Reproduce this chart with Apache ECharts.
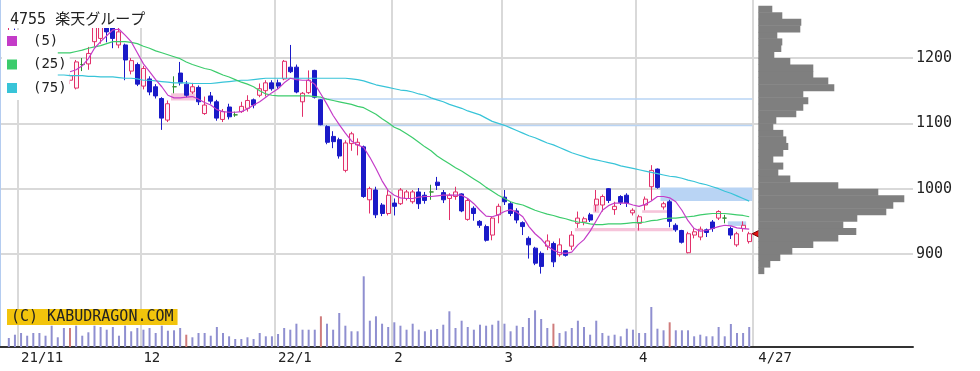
<!DOCTYPE html>
<html><head><meta charset="utf-8">
<script src="https://cdn.jsdelivr.net/npm/echarts@6/dist/echarts.min.js"></script>
<style>html,body{margin:0;padding:0;background:#fff;}#c{width:980px;height:371px;}</style>
</head><body><div id="c"></div>
<script>
// ---------------- DATA ----------------
const dates = [
'2021/10/28','2021/10/29',
'2021/11/1','2021/11/2','2021/11/4','2021/11/5','2021/11/8','2021/11/9','2021/11/10','2021/11/11','2021/11/12','2021/11/15',
'2021/11/16','2021/11/17','2021/11/18','2021/11/19','2021/11/22','2021/11/24','2021/11/25','2021/11/26','2021/11/29','2021/11/30',
'2021/12/1','2021/12/2','2021/12/3','2021/12/6','2021/12/7','2021/12/8','2021/12/9','2021/12/10','2021/12/13','2021/12/14','2021/12/15',
'2021/12/16','2021/12/17','2021/12/20','2021/12/21','2021/12/22','2021/12/23','2021/12/24','2021/12/27','2021/12/28','2021/12/29','2021/12/30',
'2022/1/4','2022/1/5','2022/1/6','2022/1/7','2022/1/11','2022/1/12','2022/1/13','2022/1/14','2022/1/17','2022/1/18',
'2022/1/19','2022/1/20','2022/1/21','2022/1/24','2022/1/25','2022/1/26','2022/1/27','2022/1/28','2022/1/31',
'2022/2/1','2022/2/2','2022/2/3','2022/2/4','2022/2/7','2022/2/8','2022/2/9','2022/2/10','2022/2/14','2022/2/15',
'2022/2/16','2022/2/17','2022/2/18','2022/2/21','2022/2/22','2022/2/24','2022/2/25','2022/2/28',
'2022/3/1','2022/3/2','2022/3/3','2022/3/4','2022/3/7','2022/3/8','2022/3/9','2022/3/10','2022/3/11','2022/3/14','2022/3/15',
'2022/3/16','2022/3/17','2022/3/18','2022/3/22','2022/3/23','2022/3/24','2022/3/25','2022/3/28','2022/3/29','2022/3/30','2022/3/31',
'2022/4/1','2022/4/4','2022/4/5','2022/4/6','2022/4/7','2022/4/8','2022/4/11','2022/4/12','2022/4/13','2022/4/14',
'2022/4/15','2022/4/18','2022/4/19','2022/4/20','2022/4/21','2022/4/22','2022/4/25','2022/4/26','2022/4/27'
];
const opens = [
1235,1240,1228,1212,1203,1195,1188,1190,1178,1172,
1166,1154,1190,1191,1225,1230,1262,1258,1220,1220,
1180,1190,1157,1168,1156,1138,1105,1156,1177,1160,
1148,1155,1115,1142,1133,1106,1125,1113,1118,1123,
1136,1143,1150,1162,1162,1168,1186,1186,1133,1147,
1181,1136,1095,1080,1075,1028,1069,1067,1064,983,
998,975,962,978,977,985,980,995,990,995,
1010,994,985,988,992,953,970,950,942,929,
960,987,977,966,948,924,909,901,912,916,
899,905,912,947,949,960,975,975,1000,968,
988,990,963,947,975,1003,1030,972,980,944,
936,902,929,926,937,949,955,955,939,914,
939,919];
const closes = [
1242,1232,1215,1205,1196,1188,1192,1180,1172,1168,
1173,1194,1190,1207,1252,1258,1240,1230,1240,1197,
1196,1160,1184,1148,1142,1108,1130,1156,1162,1143,
1156,1133,1128,1134,1108,1118,1110,1113,1126,1135,
1128,1153,1162,1153,1157,1195,1179,1148,1146,1166,
1140,1098,1071,1072,1050,1070,1084,1071,988,1000,
960,962,990,973,998,995,995,977,982,995,
1005,983,990,995,966,982,962,944,921,955,
973,980,962,952,942,914,886,881,920,888,
914,898,929,955,954,952,984,988,982,973,
979,978,967,957,984,1028,1002,977,950,937,
918,931,934,938,933,939,965,955,929,931,
944,931];
const lows = [
1228,1225,1210,1198,1190,1182,1183,1175,1168,1162,
1160,1152,1180,1182,1218,1222,1224,1215,1215,1166,
1175,1157,1152,1143,1138,1090,1102,1146,1158,1140,
1145,1128,1113,1130,1104,1102,1106,1110,1116,1118,
1123,1140,1141,1150,1153,1166,1177,1146,1110,1145,
1138,1097,1068,1062,1046,1025,1058,1051,986,962,
955,958,959,959,975,982,977,969,977,983,
998,978,952,983,964,951,951,940,919,921,
947,975,958,947,929,893,883,870,906,880,
896,896,906,940,944,949,965,965,978,960,
975,972,959,936,967,982,1000,968,941,934,
916,901,924,921,926,934,952,947,923,911,
934,916];
const highs = [
1248,1245,1232,1218,1208,1200,1198,1194,1185,1178,
1176,1197,1200,1217,1260,1266,1272,1280,1255,1222,
1200,1193,1188,1172,1160,1140,1135,1172,1194,1165,
1162,1158,1141,1148,1136,1122,1130,1118,1133,1143,
1138,1161,1166,1166,1167,1197,1220,1190,1148,1181,
1182,1137,1097,1088,1078,1074,1087,1077,1066,1003,
1003,978,999,985,1001,998,998,1001,995,1006,
1018,998,993,1003,993,985,973,952,945,957,
977,998,980,970,950,927,911,904,930,919,
924,906,935,965,957,963,998,991,1001,980,
990,993,970,960,988,1036,1031,980,983,947,
937,934,939,942,939,952,967,960,942,934,
950,934];
// volume (x100k shares)
const volumes = [
9,12.3,14,11.3,14,14,11.3,21.3,9.7,19,
19,21.3,11.3,14.7,21.3,20,17.3,20,11.3,21.3,
15.7,19,17.3,19,14,21.3,16.3,16.7,19,12.3,
9.7,14,14,11.3,20,14,10.7,8,8,9.7,
8,14,10.7,10.7,13,19,17.3,23.3,17.3,17.3,
17.3,30.7,23.3,17.3,34,21.3,15.7,15.7,70.7,26.3,
30.7,23.3,20,24.7,21.3,17.3,23.3,17.3,15.7,17.3,
18,22.3,35.7,19,26.3,20,17.3,22.3,21.3,22.3,
26.3,23.3,15.7,21.3,20,29,36.7,28,19,23.3,
14,15.7,19,26.3,20,12.3,26.3,14,11.3,12.3,
10.7,18.3,17.3,14,14,40,18.3,16.7,24.7,16.7,
16.7,16.7,10.7,12.3,10.7,10.7,20,10.7,23,14,
14,20];
const volumeRedIdx = [10, 29, 51, 89, 108];
const ma5 = [
'-','-','-','-','-','-','-','-','-','-',
1179,1182,1188,1199,1215,1225,1234,1243,1244,1235,
1225,1208,1191,1179,1167,1156,1143,1139,1139,1140,
1141,1137,1132,1128,1121,1118,1117,1117,1118,1122,
1128,1133,1140,1147,1153,1162,1169,1167,1166,1166,
1160,1145,1129,1112,1098,1085,1073,1067,1063,1048,
1031,1012,997,990,986,985,985,987,988,988,
989,990,990,990,990,985,977,967,958,957,
960,965,968,964,957,942,931,923,912,906,
902,901,903,914,922,935,951,967,974,978,
978,978,975,973,976,981,988,988,986,980,
967,951,939,935,936,939,942,944,943,940,
939,938];
const ma25 = [
'-','-','-','-','-','-','-','-',1208,1208,
1208,1210,1212,1215,1217,1219,1222,1225,1225,1225,
1224,1222,1218,1215,1211,1208,1205,1202,1199,1194,
1190,1187,1184,1182,1178,1174,1171,1167,1163,1160,
1156,1150,1145,1143,1142,1142,1142,1142,1142,1142,
1141,1140,1137,1135,1133,1131,1129,1126,1124,1119,
1114,1107,1101,1094,1090,1084,1078,1071,1064,1058,
1050,1044,1038,1032,1027,1021,1015,1009,1002,996,
990,985,980,977,975,971,967,964,961,959,
956,954,951,949,948,946,945,945,946,946,
946,947,948,948,949,951,952,954,955,955,
956,957,958,960,961,962,962,962,961,960,
959,957];
const ma75 = [
'-','-','-','-','-','-','-','-',1174,1174,
1173,1173,1173,1172,1172,1171,1171,1171,1170,1169,
1169,1168,1166,1166,1165,1164,1163,1162,1162,1162,
1161,1161,1161,1161,1162,1163,1164,1165,1166,1166,
1167,1168,1169,1169,1169,1169,1169,1169,1169,1169,
1169,1169,1169,1169,1169,1169,1168,1167,1165,1162,
1159,1157,1155,1153,1151,1150,1148,1145,1143,1139,
1136,1133,1129,1126,1123,1119,1116,1113,1108,1103,
1100,1097,1093,1089,1085,1081,1078,1074,1070,1067,
1063,1059,1055,1052,1049,1046,1044,1042,1040,1038,
1035,1033,1031,1029,1027,1025,1023,1021,1019,1018,
1016,1013,1011,1008,1006,1003,1000,996,993,989,
985,981];
// price-volume profile: bucket lower bound (yen) and relative volume
const profileLow = [870,880,890,900,910,920,930,940,950,960,970,980,990,1000,1010,1020,1030,1040,1050,1060,1070,1080,1090,1100,1110,1120,1130,1140,1150,1160,1170,1180,1190,1200,1210,1220,1230,1240,1250,1260,1270];
const profileVol = [6,12,22,34,55,80,98,85,99,128,135,146,120,80,32,20,25,15,25,30,28,25,15,18,38,45,50,45,76,70,55,55,32,16,23,24,19,42,43,24,14];
const profileStep = 10;
// price gaps (windows): start/end candle index, price low/high, kind
const zoneStart = [27, 93, 104, 96, 51, 51, 107, 118];
const zoneEnd   = [30, 108, 108, 96, 121, 121, 121, 120];
const zoneLow   = [1135, 935, 963, 963, 1136.5, 1096, 981, 943];
const zoneHigh  = [1146, 940, 967, 975, 1138.5, 1098, 1002, 950];
const zoneKind  = ['up','up','up','up','down','down','down','down'];
// axis ticks
const xTickDates  = ['2021/11/1','2021/12/1','2022/1/4','2022/2/1','2022/3/1','2022/4/1','2022/4/27'];
const xTickLabels = ['21/11','12','22/1','2','3','4','4/27'];
const gridLineDates = ['2021/11/1','2021/12/1','2022/1/4','2022/2/1','2022/3/1','2022/4/1'];
const yTicks = [900, 1000, 1100, 1200];

// ---------------- LAYOUT ----------------
const MONO = "'DejaVu Sans Mono', monospace";
const MONOJP = "'DejaVu Sans Mono', 'Noto Sans CJK JP', sans-serif";
const N = dates.length;
const PX_LEFT = 5.76, BAND = 6.119;
const PLOT_W = N * BAND;
const AXIS_X = 913, BASE_Y = 347;
const PX_PER_YEN = 65.333 / 100;
const P_MAX = 1288.8;          // price at the top edge of the plot
const P_MIN = 800;             // price range floor for the hidden price axes
const P_H = (P_MAX - P_MIN) * PX_PER_YEN;
const T_MIN = 900;             // lowest labelled price
const T_H = (P_MAX - T_MIN) * PX_PER_YEN;
const PROF_LEFT = 758.3;

const chart = echarts.init(document.getElementById('c'));
const candleData = dates.map((d, i) => [opens[i], closes[i], lows[i], highs[i]]);
const zoneData = zoneStart.map((s, i) => [s, zoneEnd[i], zoneLow[i], zoneHigh[i]]);
const profData = profileLow.map((lo, i) => [lo, lo + profileStep, profileVol[i]]);

const option = {
  animation: false,
  backgroundColor: '#fff',
  title: {
    text: '4755 楽天グループ', left: 2, top: 0, padding: [13, 8, 0, 8],
    backgroundColor: '#fff',
    textStyle: { fontFamily: MONOJP, fontSize: 15, fontWeight: 'normal', color: '#222' }
  },
  legend: {
    data: ['(5)', '(25)', '(75)'], orient: 'vertical', left: 2, top: 30,
    padding: [3, 3, 4, 5], itemGap: 7.5, itemWidth: 10, itemHeight: 10, icon: 'rect',
    backgroundColor: '#fff', selectedMode: false,
    textStyle: { fontFamily: MONO, fontSize: 14, color: '#222', padding: [0, 0, 0, 11], lineHeight: 16 }
  },
  graphic: [{
    type: 'text', left: 7, top: 309, z: 100,
    style: { text: '(C) KABUDRAGON.COM', font: '15px ' + MONO, fill: '#222',
             backgroundColor: '#f2c40c', padding: [1, 4, 0, 4] }
  }],
  grid: [
    { left: PX_LEFT, width: PLOT_W, top: 0, height: P_H },                   // 0 candles
    { left: PX_LEFT, width: PLOT_W, top: 0, height: BASE_Y },                // 1 volume + date axis
    { left: 0, width: AXIS_X, top: 0, height: T_H },                         // 2 price ticks/grid lines
    { left: PROF_LEFT, width: AXIS_X - PROF_LEFT, top: 0, height: P_H },     // 3 profile
    { left: 0, width: AXIS_X, top: 0, height: BASE_Y }                       // 4 frame
  ],
  xAxis: [
    { type: 'category', gridIndex: 0, data: dates, show: false },
    { type: 'category', gridIndex: 1, data: dates,
      axisLine: { show: false }, axisTick: { show: false },
      splitLine: { show: true, interval: (i) => gridLineDates.includes(dates[i]),
                   lineStyle: { color: '#d9d9d9', width: 2 } },
      axisLabel: {
        interval: (i) => xTickDates.includes(dates[i]),
        align: 'left', margin: 4, fontFamily: MONO, fontSize: 14, color: '#222',
        formatter: (v, i) => {
          const k = xTickDates.indexOf(v);
          if (k < 0) return '';
          return i === N - 1 ? '{s|' + xTickLabels[k] + '}' : xTickLabels[k];
        },
        rich: { s: { padding: [0, 0, 0, 9], fontFamily: MONO, fontSize: 14, color: '#222' } }
      } },
    { type: 'value', gridIndex: 2, min: 0, max: 1, show: false },
    { type: 'value', gridIndex: 3, min: 0, max: AXIS_X - PROF_LEFT, show: false },
    { type: 'value', gridIndex: 4, min: 0, max: 1, position: 'bottom',
      axisLine: { show: true, lineStyle: { color: '#333', width: 2 } },
      axisTick: { show: false }, axisLabel: { show: false }, splitLine: { show: false } }
  ],
  yAxis: [
    { type: 'value', gridIndex: 0, min: P_MIN, max: P_MAX, show: false },
    { type: 'value', gridIndex: 1, min: 0, max: BASE_Y, show: false },
    { type: 'value', gridIndex: 2, min: T_MIN, max: P_MAX, interval: 100, position: 'right',
      axisLine: { show: false },
      axisTick: { show: true, inside: true, length: 5, lineStyle: { color: '#333', width: 1.5 } },
      axisLabel: { margin: 3, fontFamily: MONO, fontSize: 15, color: '#222', showMaxLabel: false,
                   formatter: (v) => yTicks.includes(v) ? String(v) : '' },
      splitLine: { show: true, showMaxLine: false, lineStyle: { color: '#d9d9d9', width: 2 } } },
    { type: 'value', gridIndex: 3, min: P_MIN, max: P_MAX, show: false },
    { type: 'value', gridIndex: 4, min: 0, max: 1, position: 'right',
      axisLine: { show: true, lineStyle: { color: '#333', width: 2 } },
      axisTick: { show: false }, axisLabel: { show: false }, splitLine: { show: false } },
    { type: 'value', gridIndex: 4, min: 0, max: 1, position: 'left',
      axisLine: { show: true, lineStyle: { color: '#b4ccf0', width: 2 } },
      axisTick: { show: false }, axisLabel: { show: false }, splitLine: { show: false } }
  ],
  series: [
    { type: 'custom', name: 'gaps', xAxisIndex: 0, yAxisIndex: 0, z: 1,
      data: zoneData, encode: { x: [0, 1], y: [2, 3] },
      renderItem: (params, api) => {
        const s = api.value(0), e = api.value(1), lo = api.value(2), hi = api.value(3);
        const p1 = api.coord([s, hi]), p2 = api.coord([e, lo]);
        const bw = api.size([1, 0])[0];
        return { type: 'rect',
          shape: { x: p1[0] - bw / 2, y: p1[1], width: p2[0] - p1[0] + bw, height: Math.max(p2[1] - p1[1], 1.5) },
          style: { fill: zoneKind[params.dataIndex] === 'up' ? '#f6c4da' : '#b9d4f4' } };
      } },
    { type: 'candlestick', name: 'price', xAxisIndex: 0, yAxisIndex: 0, z: 3,
      data: candleData, barWidth: 4.5,
      itemStyle: { color: '#fff4f8', color0: '#1a1ac8', borderColor: '#e2306a', borderColor0: '#1a1ac8',
                   borderColorDoji: '#2f8f2f', borderWidth: 1 },
      markPoint: {
        symbol: 'triangle', symbolSize: [10, 10], symbolRotate: 90, symbolOffset: [8, 0],
        label: { show: false },
        itemStyle: { color: '#e51010', borderColor: '#700', borderWidth: 1 },
        data: [{ coord: [N - 1, closes[N - 1]] }]
      } },
    { type: 'line', name: '(75)', xAxisIndex: 0, yAxisIndex: 0, data: ma75, showSymbol: false, symbol: 'none', z: 4,
      color: '#38c4d8', lineStyle: { color: '#38c4d8', width: 1.2 } },
    { type: 'line', name: '(25)', xAxisIndex: 0, yAxisIndex: 0, data: ma25, showSymbol: false, symbol: 'none', z: 4,
      color: '#3ccc6c', lineStyle: { color: '#3ccc6c', width: 1.2 } },
    { type: 'line', name: '(5)', xAxisIndex: 0, yAxisIndex: 0, data: ma5, showSymbol: false, symbol: 'none', z: 5,
      color: '#c43cc8', lineStyle: { color: '#c43cc8', width: 1.2 } },
    { type: 'bar', name: 'volume', xAxisIndex: 1, yAxisIndex: 1, data: volumes, barWidth: 2,
      itemStyle: { color: (p) => volumeRedIdx.includes(p.dataIndex) ? '#cf7c7c' : '#8f8fd0' } },
    { type: 'custom', name: 'profile', xAxisIndex: 3, yAxisIndex: 3, z: 6,
      data: profData, encode: { x: 2, y: [0, 1] },
      renderItem: (params, api) => {
        const lo = api.value(0), hi = api.value(1), v = api.value(2);
        const a = api.coord([0, hi]), b = api.coord([v, lo]);
        return { type: 'rect', shape: { x: a[0], y: a[1], width: b[0] - a[0], height: b[1] - a[1] + 0.5 },
                 style: { fill: '#7f7f7f' } };
      } }
  ]
};
chart.setOption(option);
</script>
</body></html>
